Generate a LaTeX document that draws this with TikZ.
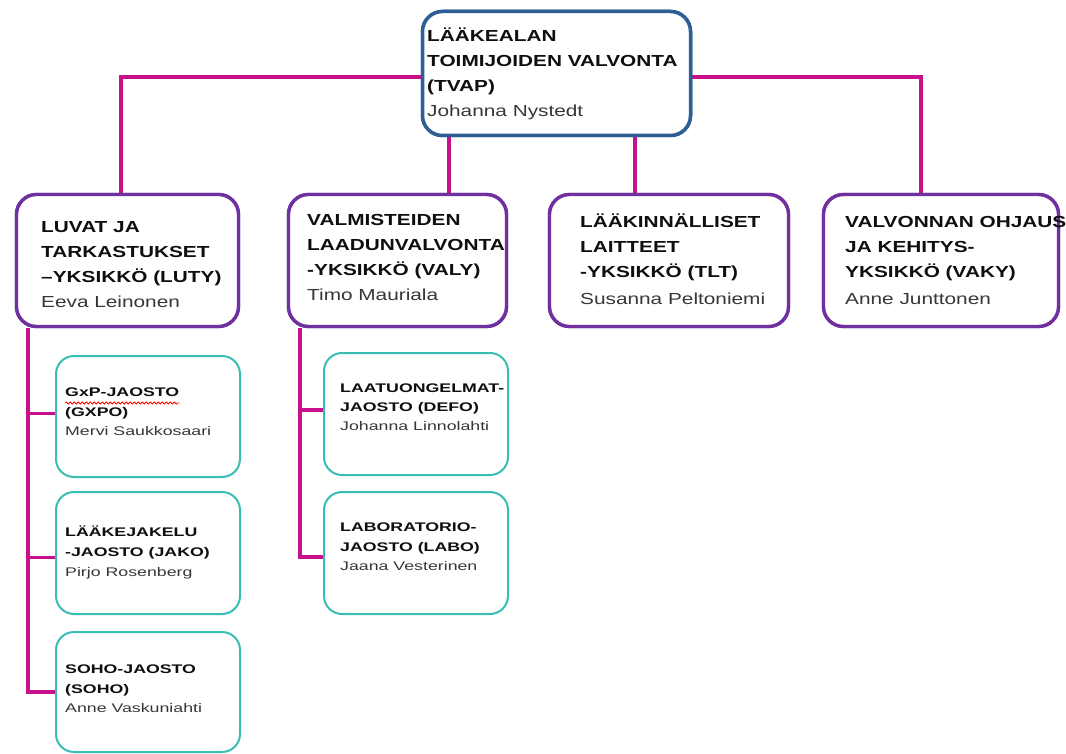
\documentclass[tikz,border=0pt]{standalone}
\usepackage{fontspec}
\setmainfont{Liberation Sans}
\newfontfamily\hfont[FakeStretch=1.3]{Liberation Sans}
\newfontfamily\sfontx[FakeStretch=1.42]{Liberation Sans}
\usetikzlibrary{decorations.pathmorphing}
\definecolor{magentaln}{RGB}{200,16,140}
\definecolor{purpleln}{RGB}{112,48,160}
\definecolor{blueln}{RGB}{46,94,148}
\definecolor{tealln}{RGB}{56,190,180}
\definecolor{namegray}{RGB}{55,55,55}
\definecolor{headblack}{RGB}{15,15,15}
\tikzset{
  topbox/.style={draw=blueln, line width=3.5pt, rounded corners=20pt, fill=white, inner sep=0pt},
  unitbox/.style={draw=purpleln, line width=3.4pt, rounded corners=20pt, fill=white, inner sep=0pt},
  subbox/.style={draw=tealln, line width=2pt, rounded corners=18pt, fill=white, inner sep=0pt},
  conn/.style={draw=magentaln, line width=3.4pt},
  hd/.style={anchor=base west, inner sep=0pt, text=headblack, font=\hfont\bfseries\fontsize{16}{18}\selectfont},
  nm/.style={anchor=base west, inner sep=0pt, text=namegray, font=\hfont\fontsize{16}{18}\selectfont},
  shd/.style={anchor=base west, inner sep=0pt, text=headblack, font=\sfontx\bfseries\fontsize{12.5}{14}\selectfont},
  snm/.style={anchor=base west, inner sep=0pt, text=namegray, font=\sfontx\fontsize{12.5}{14}\selectfont},
}
\begin{document}
\begin{tikzpicture}[x=1pt,y=-1pt]
\useasboundingbox (0,0) rectangle (1066,754);
% boxes
\node[topbox, minimum width=268pt, minimum height=124pt] (top) at (556.5,73.5) {};
\node[unitbox, minimum width=222pt, minimum height=132pt] (luty) at (127.5,260.5) {};
\node[unitbox, minimum width=218pt, minimum height=132pt] (valy) at (397.5,260.5) {};
\node[unitbox, minimum width=239pt, minimum height=132pt] (tlt) at (669,260.5) {};
\node[unitbox, minimum width=235pt, minimum height=132pt] (vaky) at (941,260.5) {};
\node[subbox, minimum width=184pt, minimum height=121pt] (gxpo) at (148,416.5) {};
\node[subbox, minimum width=184pt, minimum height=122pt] (jako) at (148,553) {};
\node[subbox, minimum width=184pt, minimum height=120pt] (soho) at (148,692) {};
\node[subbox, minimum width=184pt, minimum height=122pt] (defo) at (416,414) {};
\node[subbox, minimum width=184pt, minimum height=122pt] (labo) at (416,553) {};
% junction coordinates
\coordinate (xl) at (121,77);
\coordinate (xr) at (921,77);
\coordinate (xm1) at (449,0);
\coordinate (xm2) at (635,0);
\coordinate (lx) at (28,0);
\coordinate (vx) at (300,0);
% connectors
\draw[conn] (top.west |- xl) -| (luty.north -| xl);
\draw[conn] (top.east |- xr) -| (vaky.north -| xr);
\draw[conn] (top.south -| xm1) -- (valy.north -| xm1);
\draw[conn] (top.south -| xm2) -- (tlt.north -| xm2);
\draw[conn] (luty.south -| lx) |- (soho.west);
\draw[conn] (lx |- gxpo.west) ++(0,-3) -- (gxpo.west |- 0,413.5);
\draw[conn] (lx |- jako.west) ++(0,4.5) -- (jako.west |- 0,557.5);
\draw[conn] (valy.south -| vx) |- (labo.west |- 0,557);
\draw[conn] (vx |- defo.west) ++(0,-4) -- (defo.west |- 0,410);
% redraw boxes on top of connector ends
\node[topbox, minimum width=268pt, minimum height=124pt] (topb) at (556.5,73.5) {};
\node[unitbox, minimum width=222pt, minimum height=132pt] (lutyb) at (127.5,260.5) {};
\node[unitbox, minimum width=218pt, minimum height=132pt] (valyb) at (397.5,260.5) {};
\node[unitbox, minimum width=239pt, minimum height=132pt] (tltb) at (669,260.5) {};
\node[unitbox, minimum width=235pt, minimum height=132pt] (vakyb) at (941,260.5) {};
% top text
\node[hd] (t1) at (427,42) {LÄÄKEALAN};
\node[hd] (t2) at (427,67) {TOIMIJOIDEN VALVONTA};
\node[hd] (t3) at (427,92) {(TVAP)};
\node[nm] (t4) at (427,117) {Johanna Nystedt};
% LUTY
\node[hd] (l1) at (41,233) {LUVAT JA};
\node[hd] (l2) at (41,258) {TARKASTUKSET};
\node[hd] (l3) at (41,283) {–YKSIKKÖ (LUTY)};
\node[nm] (l4) at (41,308) {Eeva Leinonen};
% VALY
\node[hd] (v1) at (307,226) {VALMISTEIDEN};
\node[hd] (v2) at (307,251) {LAADUNVALVONTA};
\node[hd] (v3) at (307,276) {-YKSIKKÖ (VALY)};
\node[nm] (v4) at (307,301) {Timo Mauriala};
% TLT
\node[hd] (m1) at (580,228) {LÄÄKINNÄLLISET};
\node[hd] (m2) at (580,253) {LAITTEET};
\node[hd] (m3) at (580,278) {-YKSIKKÖ (TLT)};
\node[nm] (m4) at (580,304) {Susanna Peltoniemi};
% VAKY
\node[hd] (k1) at (845,228) {VALVONNAN OHJAUS};
\node[hd] (k2) at (845,253) {JA KEHITYS-};
\node[hd] (k3) at (845,278) {YKSIKKÖ (VAKY)};
\node[nm] (k4) at (845,304) {Anne Junttonen};
% GXPO
\node[shd] (g1) at (65,396) {GxP-JAOSTO};
\node[shd] (g2) at (65,416) {(GXPO)};
\node[snm] (g3) at (65,435) {Mervi Saukkosaari};
\draw[red, line width=0.8pt, decorate, decoration={snake, amplitude=1pt, segment length=4pt}] (g1.base west |- 0,403) -- (g1.base east |- 0,403);
% JAKO
\node[shd] (j1) at (65,536) {LÄÄKEJAKELU};
\node[shd] (j2) at (65,556) {-JAOSTO (JAKO)};
\node[snm] (j3) at (65,576) {Pirjo Rosenberg};
% SOHO
\node[shd] (s1) at (65,673) {SOHO-JAOSTO};
\node[shd] (s2) at (65,693) {(SOHO)};
\node[snm] (s3) at (65,712) {Anne Vaskuniahti};
% DEFO
\node[shd] (d1) at (340,392) {LAATUONGELMAT-};
\node[shd] (d2) at (340,411) {JAOSTO (DEFO)};
\node[snm] (d3) at (340,430) {Johanna Linnolahti};
% LABO
\node[shd] (b1) at (340,531) {LABORATORIO-};
\node[shd] (b2) at (340,551) {JAOSTO (LABO)};
\node[snm] (b3) at (340,570) {Jaana Vesterinen};
\end{tikzpicture}
\end{document}
